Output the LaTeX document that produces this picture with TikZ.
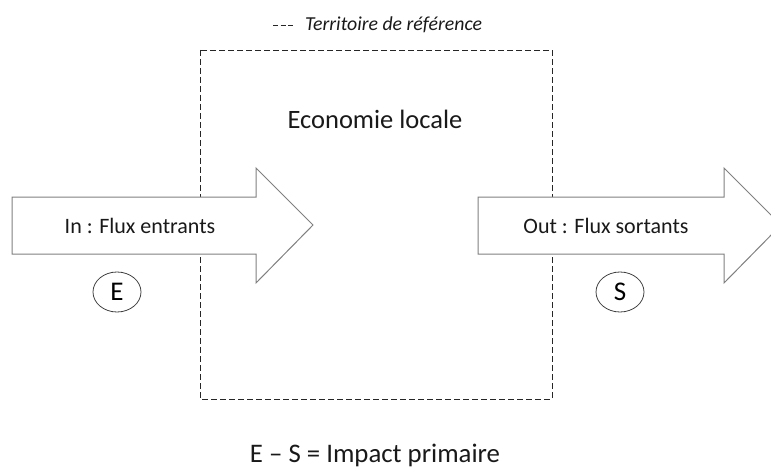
\documentclass[tikz,border=0pt]{standalone}
\usepackage{fontspec}
\setmainfont{Carlito}
\usetikzlibrary{shapes.geometric}

\begin{document}
\begin{tikzpicture}[x=1pt,y=-1pt,
        territoire/.style={draw=black!85, line width=0.8pt, dash pattern=on 6pt off 3pt},
        flux/.style={draw=black!50, line width=1pt, fill=white, line join=miter},
        solde/.style={draw=black!75, line width=0.8pt, ellipse, minimum width=48pt,
            minimum height=40pt, inner sep=0pt, font=\fontsize{27}{30}\selectfont},
        etiquette/.style={inner sep=0pt, text=black!90}]
    \useasboundingbox (0,0) rectangle (771,468);
    \clip (0,0) rectangle (771,468);
    % territoire de reference
    \draw[territoire] (200,50) rectangle (552,399);
    \coordinate (legA) at (273,25);
    \coordinate (legB) at (293,25);
    \draw[territoire, dash pattern=on 5pt off 2.5pt] (legA) -- (legB);
    \node[etiquette, anchor=west, font=\fontsize{19.8}{23}\selectfont\itshape] (legende) at (305,25) {Territoire de référence};
    \node[etiquette, font=\fontsize{26.5}{30}\selectfont] (eco) at (375,119) {Economie locale};
    % flux entrants
    \draw[flux] (12,197) -- (256,197) -- (256,168) -- (313,225) -- (256,283) -- (256,254) -- (12,254) -- cycle;
    \node[etiquette, font=\fontsize{22}{26}\selectfont] (in) at (140,226) {In : Flux entrants};
    % flux sortants
    \draw[flux] (478,197) -- (724,197) -- (724,168) -- (781,225) -- (724,283) -- (724,254) -- (478,254) -- cycle;
    \node[etiquette, font=\fontsize{22}{26}\selectfont] (out) at (606,226) {Out : Flux sortants};
    % soldes
    \node[solde] (E) at (117,292) {E};
    \node[solde] (S) at (620,292) {S};
    \node[etiquette, font=\fontsize{26.8}{30}\selectfont] (impact) at (375,455) {E – S = Impact primaire};
\end{tikzpicture}
\end{document}
